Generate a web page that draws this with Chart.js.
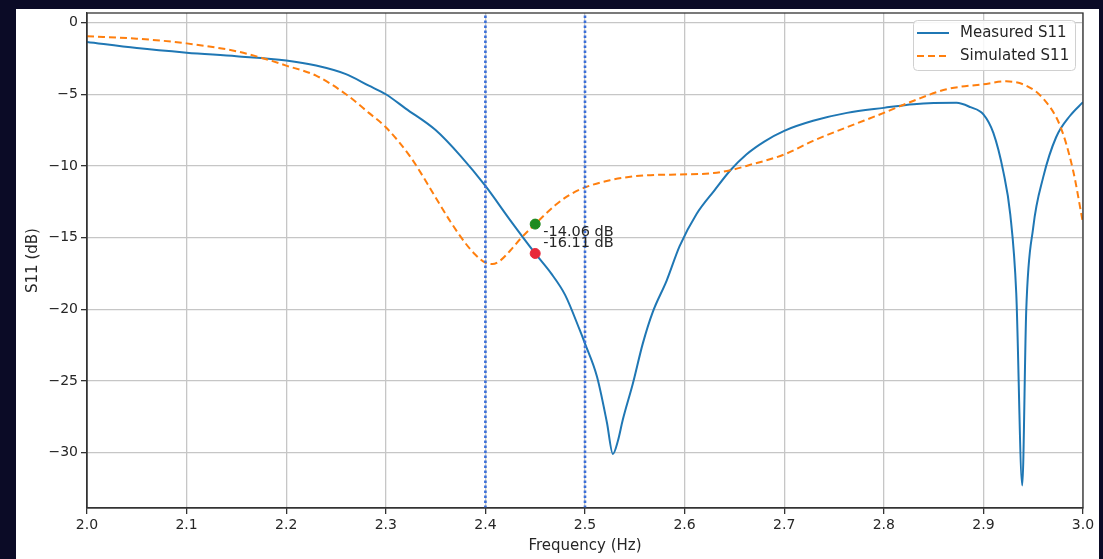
<!DOCTYPE html>
<html>
<head>
<meta charset="utf-8">
<script src="https://cdn.jsdelivr.net/npm/chart.js@4.4.0/dist/chart.umd.min.js"></script>
<style>
  html, body { margin: 0; padding: 0; background: #0b0b26; }
  #wrap { position: absolute; left: 0; top: 0; width: 1103px; height: 559px; }
</style>
</head>
<body>
<div id="wrap"><canvas id="c" width="1103" height="559"></canvas></div>
<script>
// measured S11 (frequency, dB)
const measFreq = [2.00, 2.05, 2.10, 2.15, 2.20, 2.23, 2.26, 2.283, 2.30, 2.32, 2.35, 2.375, 2.40, 2.425,
  2.45, 2.466, 2.48, 2.495, 2.50, 2.512, 2.522, 2.528, 2.533, 2.538, 2.548, 2.558, 2.568, 2.582,
  2.595, 2.612, 2.63, 2.646, 2.662, 2.68, 2.70, 2.729, 2.763, 2.80, 2.83, 2.873, 2.887, 2.90, 2.91,
  2.92, 2.927, 2.933, 2.939, 2.943, 2.95, 2.96, 2.973, 2.987, 3.00];
const measS11 = [-1.35, -1.78, -2.1, -2.35, -2.65, -3.0, -3.6, -4.4, -5.0, -6.0, -7.5, -9.3, -11.4, -13.8,
  -16.11, -17.5, -19.0, -21.5, -22.4, -24.7, -27.9, -30.1, -29.2, -27.7, -25.2, -22.4, -20.2, -18.0,
  -15.6, -13.35, -11.7, -10.3, -9.2, -8.3, -7.55, -6.85, -6.3, -5.95, -5.7, -5.6, -5.9, -6.4, -7.7,
  -10.4, -13.4, -18.9, -32.3, -20.1, -14.3, -10.8, -8.0, -6.5, -5.55];

// simulated S11 (frequency, dB)
const simFreq = [2.00, 2.05, 2.10, 2.15, 2.175, 2.20, 2.23, 2.26, 2.283, 2.30, 2.325, 2.35, 2.365, 2.38,
  2.39, 2.40, 2.407, 2.415, 2.425, 2.435, 2.45, 2.47, 2.485, 2.50, 2.525, 2.562, 2.595, 2.629, 2.646,
  2.662, 2.70, 2.729, 2.763, 2.80, 2.83, 2.863, 2.90, 2.923, 2.943, 2.96, 2.977, 2.99, 3.00];
const simS11 = [-0.95, -1.12, -1.45, -2.0, -2.45, -3.0, -3.7, -5.0, -6.3, -7.3, -9.4, -12.2, -13.9, -15.4,
  -16.2, -16.75, -16.85, -16.6, -15.9, -15.1, -14.06, -12.75, -12.0, -11.5, -11.0, -10.65, -10.6, -10.5, -10.3,
  -10.0, -9.2, -8.25, -7.3, -6.3, -5.45, -4.65, -4.3, -4.1, -4.4, -5.3, -7.2, -10.3, -14.0];

// band edges and the marked frequency
const bandEdges = [2.4, 2.5];
const markFreq = 2.45;
const markValues = [-14.06, -16.11];
const markColors = ['#1f8a1f', '#e8283a'];

const xTicks = [2.0, 2.1, 2.2, 2.3, 2.4, 2.5, 2.6, 2.7, 2.8, 2.9, 3.0];
const yTicks = [0, -5, -10, -15, -20, -25, -30];
const yMin = -33.87, yMax = 0.67;

const FONT = 'DejaVu Sans';
const TXT = '#262626';

const pts = (xs, ys) => xs.map((x, i) => ({ x: x, y: ys[i] }));

const bgPlugin = {
  id: 'bg',
  beforeDraw(chart) {
    const ctx = chart.ctx;
    ctx.save();
    ctx.fillStyle = '#0b0b26';
    ctx.fillRect(0, 0, chart.width, chart.height);
    ctx.fillStyle = '#ffffff';
    ctx.fillRect(16, 9, 1083, 550);
    ctx.restore();
  }
};

const framePlugin = {
  id: 'frame',
  afterDraw(chart) {
    const { ctx, chartArea: a, scales } = chart;
    ctx.save();
    // spines
    ctx.strokeStyle = '#333';
    ctx.lineWidth = 1.3;
    ctx.strokeRect(a.left, a.top, a.right - a.left, a.bottom - a.top);

    // marker labels
    ctx.fillStyle = TXT;
    ctx.font = '14.5px "' + FONT + '"';
    ctx.textBaseline = 'middle';
    ctx.textAlign = 'left';
    const tx = scales.x.getPixelForValue(markFreq) + 8;
    ctx.fillText(markValues[0].toFixed(2) + ' dB', tx, scales.y.getPixelForValue(markValues[0]) + 8);
    ctx.fillText(markValues[1].toFixed(2) + ' dB', tx, scales.y.getPixelForValue(markValues[1]) - 10);

    // legend
    const lx = 913, ly = 20, lw = 162, lh = 50;
    ctx.fillStyle = 'rgba(255,255,255,0.85)';
    ctx.strokeStyle = '#d0d0d0';
    ctx.lineWidth = 1;
    ctx.beginPath();
    ctx.roundRect(lx + 0.5, ly + 0.5, lw, lh, 4);
    ctx.fill();
    ctx.stroke();
    ctx.font = '15px "' + FONT + '"';
    const items = chart.data.datasets.filter(d => d.inLegend);
    items.forEach((d, i) => {
      const y = ly + 13 + i * 23;
      ctx.strokeStyle = d.borderColor;
      ctx.lineWidth = 2;
      ctx.setLineDash(d.borderDash || []);
      ctx.beginPath();
      ctx.moveTo(917, y);
      ctx.lineTo(949, y);
      ctx.stroke();
      ctx.setLineDash([]);
      ctx.fillStyle = TXT;
      ctx.fillText(d.label, 960, y);
    });
    ctx.restore();
  }
};

const datasets = [
  {
    label: 'Measured S11', inLegend: true,
    data: pts(measFreq, measS11),
    borderColor: '#1f77b4', borderWidth: 2, pointRadius: 0,
    cubicInterpolationMode: 'monotone', order: 3
  },
  {
    label: 'Simulated S11', inLegend: true,
    data: pts(simFreq, simS11),
    borderColor: '#ff7f0e', borderWidth: 2, borderDash: [7, 4], pointRadius: 0,
    cubicInterpolationMode: 'monotone', order: 2
  }
];
bandEdges.forEach(f => {
  datasets.push({
    label: 'edge ' + f,
    data: [{ x: f, y: yMin }, { x: f, y: yMax }],
    borderColor: '#3b6fd9', borderWidth: 2.6, borderDash: [2.4, 2.6],
    pointRadius: 0, order: 1
  });
});
markValues.forEach((v, i) => {
  datasets.push({
    type: 'scatter',
    label: 'mark ' + v,
    data: [{ x: markFreq, y: v }],
    backgroundColor: markColors[i], borderColor: markColors[i],
    pointRadius: 5, order: 0
  });
});

new Chart(document.getElementById('c'), {
  type: 'line',
  data: { datasets: datasets },
  options: {
    responsive: false,
    animation: false,
    layout: { padding: { left: 16, top: 13, right: 20, bottom: 0 } },
    plugins: { legend: { display: false }, tooltip: { enabled: false } },
    scales: {
      x: {
        type: 'linear', min: 2.0, max: 3.0,
        afterFit: s => { s.height = 51; },
        afterBuildTicks: s => { s.ticks = xTicks.map(v => ({ value: v })); },
        grid: { color: '#c6c6c6', lineWidth: 1.3, tickColor: '#333', tickLength: 6, tickWidth: 1.3 },
        border: { display: true, color: '#333', width: 1.3 },
        ticks: {
          color: TXT, font: { family: FONT, size: 14 }, padding: 3, maxRotation: 0,
          callback: v => Number(v).toFixed(1)
        },
        title: {
          display: true, text: 'Frequency (Hz)', color: TXT,
          font: { family: FONT, size: 15 }, padding: { top: 0, bottom: 4 }
        }
      },
      y: {
        type: 'linear', min: yMin, max: yMax,
        afterFit: s => { s.width = 71; },
        afterBuildTicks: s => { s.ticks = yTicks.map(v => ({ value: v })); },
        grid: { color: '#c6c6c6', lineWidth: 1.3, tickColor: '#333', tickLength: 6, tickWidth: 1.3 },
        border: { display: true, color: '#333', width: 1.3 },
        ticks: {
          color: TXT, font: { family: FONT, size: 14 }, padding: 3,
          callback: v => v === 0 ? '0' : '\u2212' + Math.abs(v)
        },
        title: {
          display: true, text: 'S11 (dB)', color: TXT,
          font: { family: FONT, size: 15 }, padding: { top: 8, bottom: 0 }
        }
      }
    }
  },
  plugins: [bgPlugin, framePlugin]
});
</script>
</body>
</html>
